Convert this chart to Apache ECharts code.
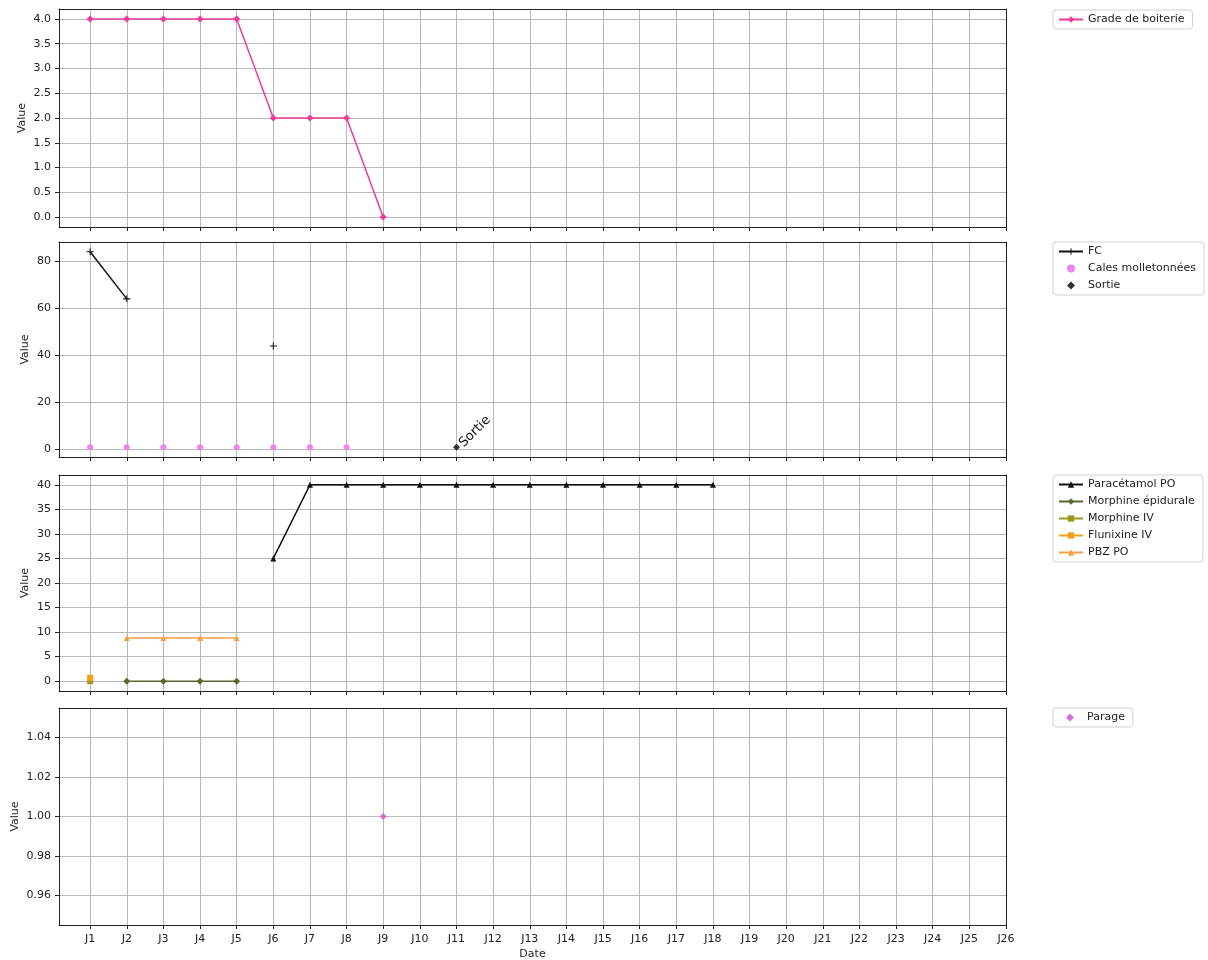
<!DOCTYPE html>
<html><head><meta charset="utf-8">
<script src="https://cdn.jsdelivr.net/npm/echarts@6/dist/echarts.min.js"></script>
<style>html,body{margin:0;padding:0;background:#fff}#c{width:1208px;height:960px}</style>
</head><body><div id="c"></div>
<script>
// ---- data ----
const days = ['J1','J2','J3','J4','J5','J6','J7','J8','J9','J10','J11','J12','J13','J14','J15','J16','J17','J18','J19','J20','J21','J22','J23','J24','J25','J26'];
const gradeBoiterie = [4, 4, 4, 4, 4, 2, 2, 2, 0];
const fc = [84, 64, null, null, null, 44];
const calesMolletonnees = [1, 1, 1, 1, 1, 1, 1, 1];
const sortie = [null, null, null, null, null, null, null, null, null, null, 1];
const paracetamolPO = [null, null, null, null, null, 25, 40, 40, 40, 40, 40, 40, 40, 40, 40, 40, 40, 40];
const morphineEpidurale = [null, 0, 0, 0, 0];
const morphineIV = [0];
const flunixineIV = [0.7];
const pbzPO = [null, 8.8, 8.8, 8.8, 8.8];
const parage = [null, null, null, null, null, null, null, null, 1];

const yTicks1 = [0, 0.5, 1, 1.5, 2, 2.5, 3, 3.5, 4];
const yTicks2 = [0, 20, 40, 60, 80];
const yTicks3 = [0, 5, 10, 15, 20, 25, 30, 35, 40];
const yTicks4 = [0.96, 0.98, 1.00, 1.02, 1.04];

// ---- helpers ----
const FONT = 'DejaVu Sans';
const dayValues = days.map((d, i) => i + 1);
function linePairs(arr) { return arr.map((v, i) => [i + 1, v == null ? '-' : v]); }
function pointPairs(arr) { const out = []; arr.forEach((v, i) => { if (v != null) out.push([i + 1, v]); }); return out; }
const PLUS = 'path://M0,4.25H10V5.75H0Z M4.25,0H5.75V10H4.25Z';
const DIAMOND = 'path://M5,0L10,5L5,10L0,5Z';

const gridBoxes = [
  {top: 9, height: 218},
  {top: 242, height: 215},
  {top: 475, height: 216},
  {top: 708, height: 217}
];
const yRanges = [
  {min: -0.2, max: 4.2, ticks: yTicks1, fmt: v => v.toFixed(1), gap: 31},
  {min: -3.15, max: 88.15, ticks: yTicks2, fmt: v => String(v), gap: 28},
  {min: -2, max: 42, ticks: yTicks3, fmt: v => String(v), gap: 28},
  {min: 0.945, max: 1.055, ticks: yTicks4, fmt: v => v.toFixed(2), gap: 38}
];

const grids = gridBoxes.map(g => ({left: 59, width: 947, top: g.top, height: g.height, outerBoundsMode: 'none', containLabel: false}));

const xAxes = [];
const yAxes = [];
gridBoxes.forEach((g, i) => {
  const last = i === 3;
  xAxes.push({
    type: 'value', gridIndex: i, min: 0.15, max: 26, position: 'bottom',
    axisLine: {show: true, onZero: false, lineStyle: {color: '#222', width: 1}},
    axisTick: {show: true, customValues: dayValues, length: 4, lineStyle: {color: '#222'}},
    axisLabel: {show: last, customValues: dayValues, formatter: v => days[Math.round(v) - 1], fontFamily: FONT, fontSize: 11, color: '#222', margin: 9},
    splitLine: {show: true, lineStyle: {color: '#b8b8b8', width: 1}},
    name: last ? 'Date' : '', nameLocation: 'middle', nameGap: 24,
    nameTextStyle: {fontFamily: FONT, fontSize: 11, color: '#222'}
  });
  const yr = yRanges[i];
  yAxes.push({
    type: 'value', gridIndex: i, min: yr.min, max: yr.max, position: 'left',
    axisLine: {show: true, onZero: false, lineStyle: {color: '#222', width: 1}},
    axisTick: {show: true, customValues: yr.ticks, length: 4, lineStyle: {color: '#222'}},
    axisLabel: {show: true, customValues: yr.ticks, formatter: yr.fmt, fontFamily: FONT, fontSize: 11, color: '#222', margin: 8},
    splitLine: {show: true, lineStyle: {color: '#b8b8b8', width: 1}},
    name: 'Value', nameLocation: 'middle', nameGap: yr.gap, nameRotate: 90, nameMoveOverlap: false,
    nameTextStyle: {fontFamily: FONT, fontSize: 11, color: '#222'}
  });
});
// frame lines on top / right
gridBoxes.forEach((g, i) => {
  xAxes.push({
    type: 'value', gridIndex: i, min: 0.15, max: 26, position: 'top',
    axisLine: {show: true, onZero: false, lineStyle: {color: '#222', width: 1}},
    axisTick: {show: false}, axisLabel: {show: false}, splitLine: {show: false}
  });
  yAxes.push({
    type: 'value', gridIndex: i, min: yRanges[i].min, max: yRanges[i].max, position: 'right',
    axisLine: {show: true, onZero: false, lineStyle: {color: '#222', width: 1}},
    axisTick: {show: false}, axisLabel: {show: false}, splitLine: {show: false}
  });
});

function lineSeries(name, arr, gi, color, symbol, size) {
  return {
    name, type: 'line', xAxisIndex: gi, yAxisIndex: gi, data: linePairs(arr),
    symbol, symbolSize: size, showSymbol: true, showAllSymbol: true, connectNulls: false,
    lineStyle: {color, width: 1.5}, itemStyle: {color}, emphasis: {disabled: true}, z: 3
  };
}
function scatterSeries(name, arr, gi, color, symbol, size) {
  return {
    name, type: 'scatter', xAxisIndex: gi, yAxisIndex: gi, data: pointPairs(arr),
    symbol, symbolSize: size, symbolKeepAspect: true, itemStyle: {color, opacity: 1}, emphasis: {disabled: true}, z: 3
  };
}

const sortieSeries = scatterSeries('Sortie', sortie, 1, '#333333', DIAMOND, 7);
sortieSeries.label = {show: true, formatter: 'Sortie', position: [13, 6], rotate: 45, align: 'left', verticalAlign: 'bottom', fontFamily: FONT, fontSize: 13, color: '#111'};

const series = [
  lineSeries('Grade de boiterie', gradeBoiterie, 0, '#ee3a9b', 'diamond', 7),
  lineSeries('FC', fc, 1, '#111111', PLUS, 7),
  scatterSeries('Cales molletonnées', calesMolletonnees, 1, '#ee82ee', 'circle', 6),
  sortieSeries,
  lineSeries('Paracétamol PO', paracetamolPO, 2, '#111111', 'triangle', 6),
  lineSeries('Morphine épidurale', morphineEpidurale, 2, '#556b2f', 'diamond', 7),
  lineSeries('Morphine IV', morphineIV, 2, '#9a9a1e', 'rect', 6),
  lineSeries('Flunixine IV', flunixineIV, 2, '#f2a01a', 'rect', 6),
  lineSeries('PBZ PO', pbzPO, 2, '#f4a044', 'triangle', 6),
  scatterSeries('Parage', parage, 3, '#d070d0', DIAMOND, 7)
];

const legendBase = {
  orient: 'vertical', left: 1053, itemWidth: 24, itemHeight: 8, itemGap: 6,
  padding: [4, 8, 4, 5], borderColor: '#d0d0d0', borderWidth: 1, borderRadius: 3,
  backgroundColor: '#fff', selectedMode: false, symbolKeepAspect: true,
  textStyle: {fontFamily: FONT, fontSize: 11, color: '#222'}
};
const legends = [
  Object.assign({}, legendBase, {top: 10, data: ['Grade de boiterie']}),
  Object.assign({}, legendBase, {top: 242, data: ['FC', 'Cales molletonnées', 'Sortie']}),
  Object.assign({}, legendBase, {top: 475, data: ['Paracétamol PO', 'Morphine épidurale', 'Morphine IV', 'Flunixine IV', 'PBZ PO']}),
  Object.assign({}, legendBase, {top: 708, padding: [4, 8, 4, 13], data: ['Parage']})
];

const chart = echarts.init(document.getElementById('c'), null, {renderer: 'canvas'});
chart.setOption({
  animation: false,
  backgroundColor: '#fff',
  textStyle: {fontFamily: FONT},
  grid: grids,
  xAxis: xAxes,
  yAxis: yAxes,
  legend: legends,
  series
});
</script></body></html>
